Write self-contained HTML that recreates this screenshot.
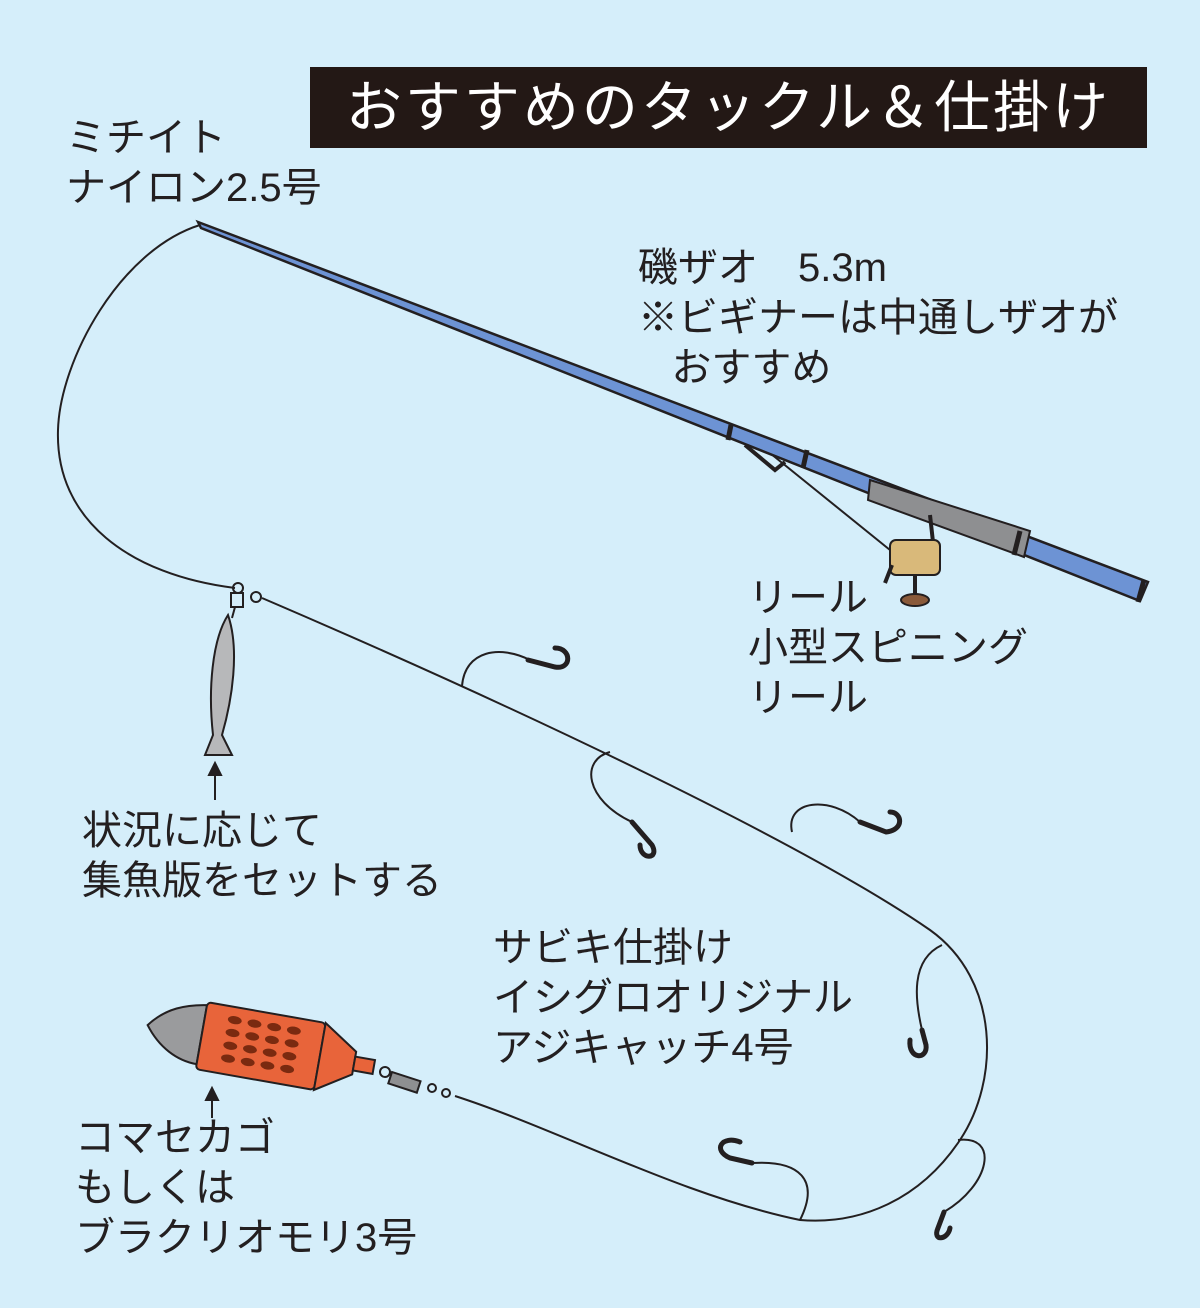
<!DOCTYPE html>
<html><head><meta charset="utf-8"><style>
html,body{margin:0;padding:0;}
body{width:1200px;height:1308px;background:#d5eefa;position:relative;overflow:hidden;font-family:"Liberation Sans","Noto Sans CJK JP",sans-serif;color:#231f20;}
.t{position:absolute;font-size:40px;line-height:50px;white-space:nowrap;}
#title{position:absolute;left:310px;top:67px;width:837px;height:81px;background:#231815;color:#fff;font-size:56px;line-height:81px;text-align:center;letter-spacing:3px;}
svg{position:absolute;left:0;top:0;}
</style></head><body>
<svg width="1200" height="1308" viewBox="0 0 1200 1308">
<g fill="none" stroke="#231f20" stroke-width="2">
<path d="M200,225 C120,250 60,360 58,430 C55,520 130,575 235,588"/>
<path d="M262,598 C500,700 800,840 930,930 C1000,980 1000,1080 960,1140 C920,1200 860,1225 800,1220 C680,1195 560,1130 455,1096"/>
<path d="M760,445 L890,550"/>
</g>
<g fill="none" stroke="#231f20" stroke-width="2">
<path d="M462,686 C465,650 500,645 530,660"/>
<path d="M610,752 C580,760 585,800 632,822"/>
<path d="M792,832 C785,800 830,795 860,822"/>
<path d="M942,945 C910,960 915,1000 922,1030"/>
<path d="M800,1220 C820,1180 800,1160 752,1163"/>
<path d="M958,1140 C1000,1135 990,1185 944,1212"/>
</g>
<g fill="none" stroke="#231f20" stroke-width="5" stroke-linecap="round">
<path d="M528,660 L555,667 C572,670 572,648 555,648"/>
<path d="M632,822 L652,845 C660,860 640,860 640,845"/>
<path d="M860,822 L886,832 C905,830 902,812 890,812"/>
<path d="M922,1030 L926,1045 C928,1060 908,1060 910,1040"/>
<path d="M752,1163 L730,1158 C712,1150 722,1135 740,1142"/>
<path d="M944,1212 L938,1228 C932,1242 948,1240 950,1228"/>
</g>
<polygon points="198,222 201,228 1140,601 1148,582" fill="#6d93d4" stroke="#231f20" stroke-width="2.5"/>
<polygon points="870,480 1030,531 1024,557 868,500" fill="#8e8f91" stroke="#231f20" stroke-width="2"/>
<g stroke="#231f20" stroke-width="5"><line x1="731" y1="425" x2="728" y2="440"/><line x1="807" y1="450" x2="803" y2="468"/><line x1="1020" y1="531" x2="1014" y2="555"/><line x1="1144" y1="580" x2="1138" y2="602"/></g>
<path d="M745,445 L775,470 L785,462" fill="none" stroke="#231f20" stroke-width="4"/>
<g stroke="#231f20" stroke-width="2">
<path d="M930,515 L935,560 L925,575" fill="none" stroke-width="4"/>
<rect x="890" y="540" width="50" height="35" rx="6" fill="#d9b97a"/>
<ellipse cx="915" cy="600" rx="14" ry="6" fill="#8a5a3a"/>
<line x1="915" y1="575" x2="915" y2="595" stroke-width="4"/>
<line x1="892" y1="565" x2="885" y2="583" stroke-width="4"/>
</g>
<g fill="none" stroke="#231f20" stroke-width="2"><circle cx="238" cy="588" r="5"/><rect x="231" y="593" width="12" height="14"/><circle cx="256" cy="597" r="5"/><line x1="235" y1="607" x2="232" y2="618"/></g>
<path d="M228,615 C240,650 232,700 222,735 L232,755 L205,755 L213,735 C208,690 212,640 228,615 Z" fill="#b7b8ba" stroke="#231f20" stroke-width="2"/>
<g stroke="#231f20" stroke-width="2" fill="#231f20"><line x1="215" y1="800" x2="215" y2="772"/><polygon points="209,775 215,763 221,775"/>
<line x1="212" y1="1118" x2="212" y2="1097"/><polygon points="206,1100 212,1088 218,1100"/></g>
<g transform="rotate(10 260 1050)" stroke="#231f20" stroke-width="2">
<path d="M145,1045 C160,1025 180,1018 200,1015 L200,1075 C180,1075 160,1065 145,1045 Z" fill="#9a9b9d"/>
<rect x="200" y="1012" width="120" height="68" rx="4" fill="#e8643a"/>
<polygon points="320,1012 355,1035 355,1058 320,1080" fill="#e8643a"/>
<rect x="355" y="1040" width="20" height="14" fill="#e8643a"/>
<g fill="#7a2a10" stroke="none">
<ellipse cx="230" cy="1025" rx="7" ry="4"/><ellipse cx="250" cy="1025" rx="7" ry="4"/><ellipse cx="270" cy="1025" rx="7" ry="4"/><ellipse cx="290" cy="1025" rx="7" ry="4"/>
<ellipse cx="230" cy="1038" rx="7" ry="4"/><ellipse cx="250" cy="1038" rx="7" ry="4"/><ellipse cx="270" cy="1038" rx="7" ry="4"/><ellipse cx="290" cy="1038" rx="7" ry="4"/>
<ellipse cx="230" cy="1051" rx="7" ry="4"/><ellipse cx="250" cy="1051" rx="7" ry="4"/><ellipse cx="270" cy="1051" rx="7" ry="4"/><ellipse cx="290" cy="1051" rx="7" ry="4"/>
<ellipse cx="230" cy="1064" rx="7" ry="4"/><ellipse cx="250" cy="1064" rx="7" ry="4"/><ellipse cx="270" cy="1064" rx="7" ry="4"/><ellipse cx="290" cy="1064" rx="7" ry="4"/>
</g></g>
<g fill="#8e8f91" stroke="#231f20" stroke-width="2"><circle cx="385" cy="1072" r="5" fill="none"/><rect x="392" y="1072" width="30" height="12" transform="rotate(18 392 1072)"/><circle cx="432" cy="1088" r="4" fill="none"/><circle cx="446" cy="1093" r="4" fill="none"/></g>
</svg>
<div id="title">おすすめのタックル＆仕掛け</div>
<div class="t" style="left:66px;top:113px;">ミチイト<br>ナイロン2.5号</div>
<div class="t" style="left:638px;top:243px;">磯ザオ　5.3m<br>※ビギナーは中通しザオが<br>&nbsp;&nbsp;&nbsp;おすすめ</div>
<div class="t" style="left:748px;top:573px;">リール<br>小型スピニング<br>リール</div>
<div class="t" style="left:82px;top:806px;">状況に応じて<br>集魚版をセットする</div>
<div class="t" style="left:493px;top:923px;">サビキ仕掛け<br>イシグロオリジナル<br>アジキャッチ4号</div>
<div class="t" style="left:75px;top:1113px;">コマセカゴ<br>もしくは<br>ブラクリオモリ3号</div>
</body></html>
